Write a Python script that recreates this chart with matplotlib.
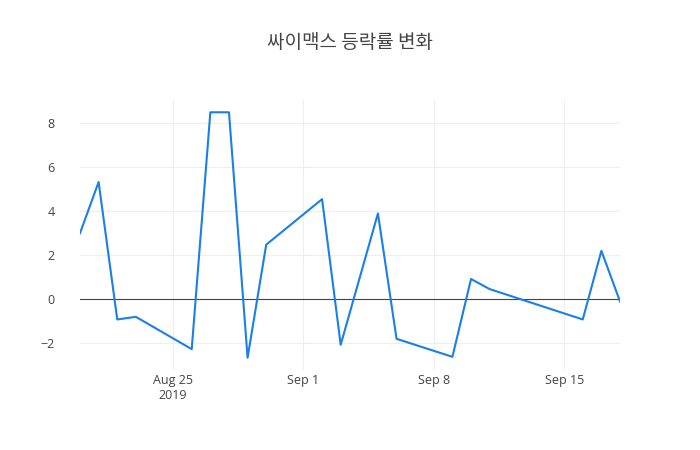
import matplotlib
matplotlib.use("Agg")
import matplotlib.pyplot as plt
import pandas as pd

dates = ["2019-08-20", "2019-08-21", "2019-08-22", "2019-08-23", "2019-08-26",
         "2019-08-27", "2019-08-28", "2019-08-29", "2019-08-30", "2019-09-02",
         "2019-09-03", "2019-09-05", "2019-09-06", "2019-09-09", "2019-09-10",
         "2019-09-11", "2019-09-16", "2019-09-17", "2019-09-18"]
values = [3.0, 5.33, -0.92, -0.8, -2.27,
          8.5, 8.5, -2.66, 2.48, 4.55,
          -2.07, 3.9, -1.8, -2.62, 0.92,
          0.46, -0.92, 2.2, -0.1]
tick_dates = ["2019-08-25", "2019-09-01", "2019-09-08", "2019-09-15"]
tick_labels = ["Aug 25\n2019", "Sep 1", "Sep 8", "Sep 15"]
y_ticks = [-2, 0, 2, 4, 6, 8]
title = "싸이맥스 등락률 변화"

plt.rcParams['font.family'] = ['Noto Sans CJK KR', 'DejaVu Sans']

x = pd.to_datetime(dates)
fig = plt.figure(figsize=(7, 4.5), dpi=100)
ax = fig.add_axes([80/700, 80/450, 540/700, 270/450])

ax.plot(x, values, color='#1a7fe6', linewidth=1.5, zorder=3)
ax.axhline(0, color='#444444', linewidth=0.8, zorder=2)

ax.set_xlim(x[0], x[-1])
ymin, ymax = min(values), max(values)
pad = (ymax - ymin) * 0.05
ax.set_ylim(ymin - pad, ymax + pad)

tick_font = ['Open Sans', 'DejaVu Sans']
ax.set_xticks(pd.to_datetime(tick_dates))
ax.set_xticklabels(tick_labels, fontsize=9, color='#444444', family=tick_font, linespacing=1.15)
ax.set_yticks(y_ticks)
ax.set_yticklabels(["\u22122" if v == -2 else str(v) for v in y_ticks], fontsize=9,
                   color='#444444', family=tick_font)
ax.tick_params(axis='both', length=0)
ax.tick_params(axis='x', pad=3)
ax.tick_params(axis='y', pad=18)

ax.grid(True, color='#eeeeee', linewidth=0.8)
ax.set_axisbelow(True)
for s in ax.spines.values():
    s.set_visible(False)

fig.text(350/700, 1 - 43/450, title, ha='center', va='center', fontsize=13.7, color='#444444')

fig.savefig("out.png", dpi=100)
